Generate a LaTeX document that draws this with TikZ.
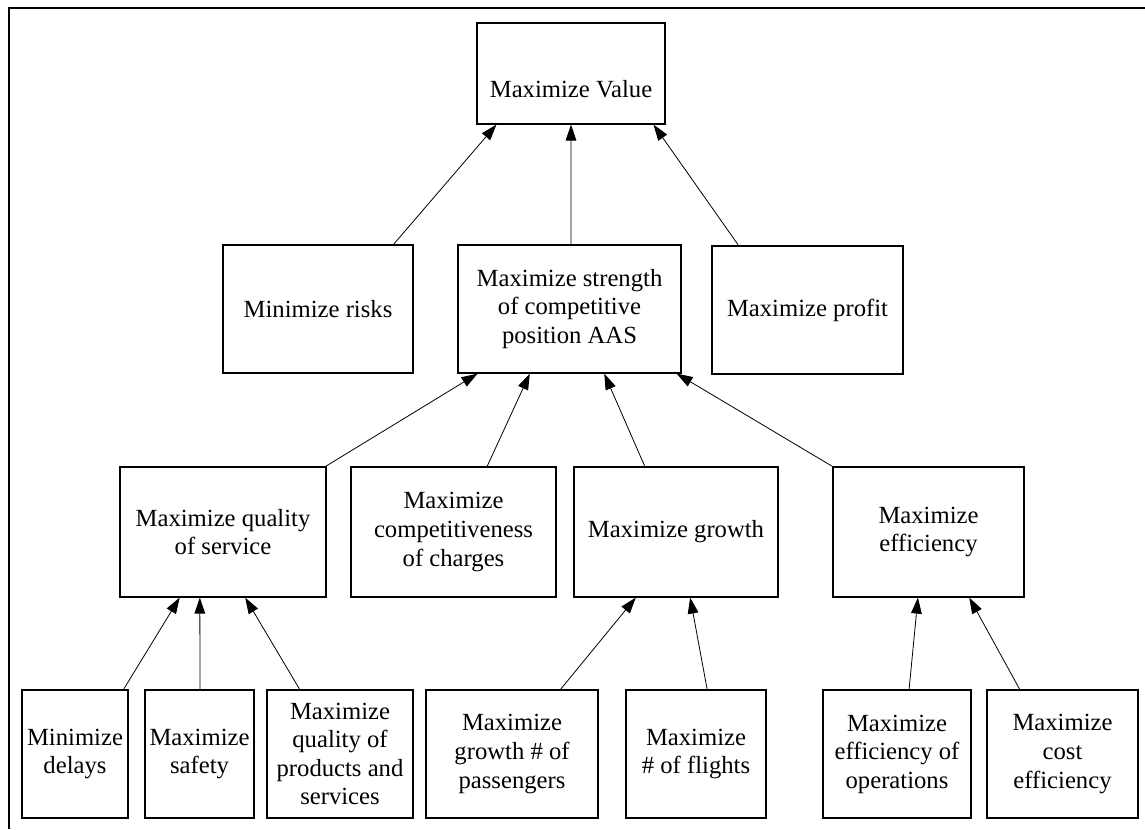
\documentclass[tikz,border=0pt]{standalone}
\usepackage{fontspec}
\setmainfont{Liberation Serif}
\usetikzlibrary{arrows.meta,calc}

% connector from a point on the top edge of a child box
% to a point on the bottom edge of its parent box
\newcommand\linkup[4]{%
  \draw[link] ($(#1.north west)!#2!(#1.north east)$) -- ($(#3.south west)!#4!(#3.south east)$);}

\begin{document}
\begin{tikzpicture}[x=0.75pt,y=-0.75pt,
  goal/.style={draw,line width=0.9pt,inner sep=0pt,align=center,
    font=\fontsize{18.5}{21.4}\selectfont},
  link/.style={line width=0.6pt,-{Triangle[length=12pt,width=8pt]}},
  frame/.style={line width=1.1pt}]
\useasboundingbox (0,0) rectangle (1145,829);

% outer frame (top and left sides)
\draw[frame] (1145,8) -- (9,8) -- (9,829);

% top level
\node[goal,minimum width=141pt,minimum height=75.75pt,
  label={[font=\fontsize{18.5}{21.4}\selectfont,yshift=-12pt]center:Maximize Value}]
  (value) at (571,73.5) {};

% second level
\node[goal,minimum width=142.5pt,minimum height=96pt] (risks) at (318,309) {Minimize risks};
\node[goal,minimum width=167.25pt,minimum height=96pt] (aas) at (569.5,309)
  {Maximize strength\\of competitive\\position AAS};
\node[goal,minimum width=143.25pt,minimum height=96pt] (profit) at (807.5,310) {Maximize profit};

% third level
\node[goal,minimum width=154.5pt,minimum height=97.5pt] (qos) at (223,532)
  {Maximize quality\\of service};
\node[goal,minimum width=153.75pt,minimum height=97.5pt] (comp) at (453.5,532)
  {Maximize\\competitiveness\\of charges};
\node[goal,minimum width=153pt,minimum height=97.5pt] (growth) at (676,532)
  {Maximize growth};
\node[goal,minimum width=143.25pt,minimum height=97.5pt] (eff) at (928.5,532)
  {Maximize\\efficiency};

% fourth level
\node[goal,minimum width=79.5pt,minimum height=96pt] (delays) at (75,754)
  {Minimize\\delays};
\node[goal,minimum width=81.75pt,minimum height=96pt] (safety) at (199.5,754)
  {Maximize\\safety};
\node[goal,minimum width=109.5pt,minimum height=96pt] (products) at (340,754)
  {Maximize\\quality of\\products and\\services};
\node[goal,minimum width=129pt,minimum height=96pt] (passengers) at (512,754)
  {Maximize\\growth \# of\\passengers};
\node[goal,minimum width=105pt,minimum height=96pt] (flights) at (696,754)
  {Maximize\\\# of flights};
\node[goal,minimum width=111pt,minimum height=96pt] (operations) at (897,754)
  {Maximize\\efficiency of\\operations};
\node[goal,minimum width=113.25pt,minimum height=96pt] (cost) at (1062.5,754)
  {Maximize\\cost\\efficiency};

% connectors into the top goal
\linkup{risks}{0.895}{value}{0.106}
\linkup{aas}{0.507}{value}{0.5}
\linkup{profit}{0.141}{value}{0.936}

% connectors into the competitive position goal
\linkup{qos}{0.995}{aas}{0.09}
\linkup{comp}{0.663}{aas}{0.323}
\linkup{growth}{0.348}{aas}{0.655}
\linkup{eff}{0}{aas}{0.978}

% connectors into the third level
\linkup{delays}{0.953}{qos}{0.291}
\linkup{safety}{0.505}{qos}{0.388}
\linkup{products}{0.226}{qos}{0.607}
\linkup{passengers}{0.78}{growth}{0.304}
\linkup{flights}{0.579}{growth}{0.569}
\linkup{operations}{0.581}{eff}{0.445}
\linkup{cost}{0.219}{eff}{0.712}
\end{tikzpicture}
\end{document}
